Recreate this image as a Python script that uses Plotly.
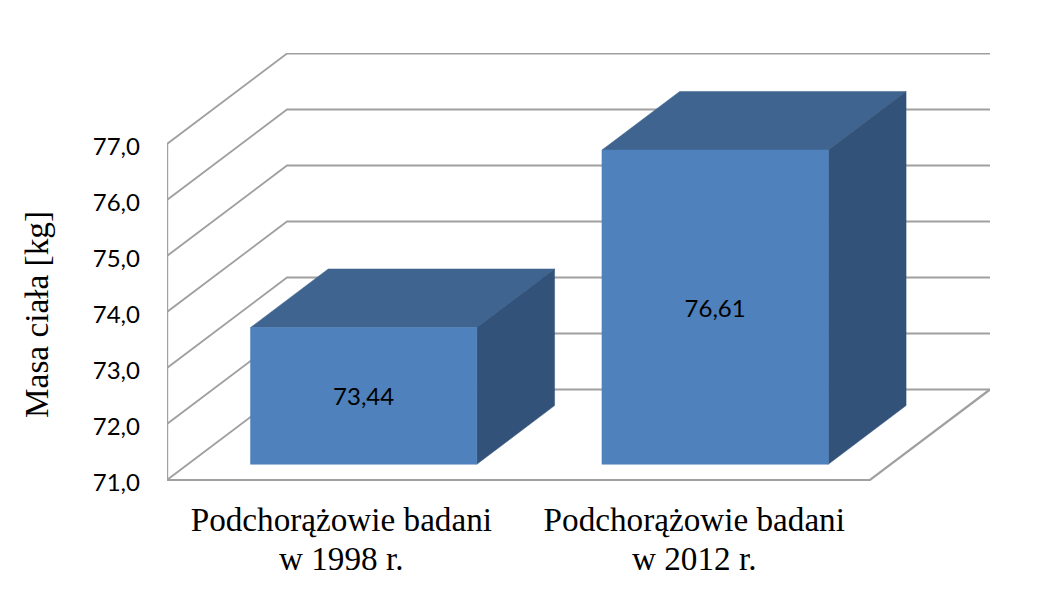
import plotly.graph_objects as go

category_line1 = ["Podchorążowie badani", "Podchorążowie badani"]
category_line2 = ["w 1998 r.", "w 2012 r."]
values = [73.44, 76.61]
value_labels = ["73,44", "76,61"]
y_ticks = [71, 72, 73, 74, 75, 76, 77]

# Pixel scale of the reference frame
PX_X = 351.5   # px per category
PX_Y = 56.0    # px per value unit
PLOT_L, PLOT_R, PLOT_T, PLOT_B = 167, 990, 53, 485
ZERO_PX = 480

# Oblique projection of the 3D box: depth d in 0..1 shifts along both axes
V_MIN = 71
DEPTH_X = 120 / PX_X
DEPTH_Y = 90.5 / PX_Y
BAR_D0, BAR_D1 = 0.174, 0.822
BAR_W = 0.644
GRID = "#a0a0a0"
FRONT, TOP, SIDE = "#4f81bd", "#3e648f", "#335279"
SANS = "Lato"
SERIF = "Liberation Serif"


def proj(x, v, d):
    return x + d * DEPTH_X, v + d * DEPTH_Y


def poly(points):
    xs, ys = zip(*[proj(*p) for p in points])
    return list(xs), list(ys)


fig = go.Figure()


def line(points, width=1.8):
    xs, ys = poly(points)
    fig.add_trace(go.Scatter(x=xs, y=ys, mode="lines", showlegend=False, hoverinfo="skip",
                             line=dict(color=GRID, width=width)))


def face(points, color):
    xs, ys = poly(points)
    fig.add_trace(go.Scatter(x=xs + xs[:1], y=ys + ys[:1], mode="lines", fill="toself",
                             fillcolor=color, line=dict(color=color, width=0.5),
                             showlegend=False, hoverinfo="skip"))


n = len(category_line1)
# walls
for t in y_ticks:
    line([(0, t, 0), (0, t, 1), (n, t, 1)])
line([(0, V_MIN, 0), (0, y_ticks[-1], 0)], 2.4)
line([(0, V_MIN, 0), (n, V_MIN, 0), (n, V_MIN, 1)], 2.2)

# bars
for i, v in enumerate(values):
    l, r = i + 0.5 - BAR_W / 2, i + 0.5 + BAR_W / 2
    face([(l, v, BAR_D0), (r, v, BAR_D0), (r, v, BAR_D1), (l, v, BAR_D1)], TOP)
    face([(r, V_MIN, BAR_D0), (r, V_MIN, BAR_D1), (r, v, BAR_D1), (r, v, BAR_D0)], SIDE)
    face([(l, V_MIN, BAR_D0), (r, V_MIN, BAR_D0), (r, v, BAR_D0), (l, v, BAR_D0)], FRONT)

# data labels at the centre of each front face
LABEL_DROP = 3.5 / PX_Y
lx, ly = zip(*[proj(i + 0.5, (v + V_MIN) / 2 - LABEL_DROP, BAR_D0) for i, v in enumerate(values)])
fig.add_trace(go.Scatter(x=list(lx), y=list(ly), mode="text", text=value_labels, showlegend=False,
                         hoverinfo="skip", textposition="middle center",
                         textfont=dict(family=SANS, size=24, color="#000000")))

# invisible trace that carries the tick-label axis
fig.add_trace(go.Scatter(x=[0] * len(y_ticks), y=y_ticks, yaxis="y2", mode="markers", opacity=0,
                         showlegend=False, hoverinfo="skip"))

# y-axis scale with the labels sitting 3 px under the grid lines, as in the reference
LABEL_SHIFT = 3
y_low = V_MIN - (PLOT_B - ZERO_PX) / PX_Y
y_high = V_MIN + (ZERO_PX - PLOT_T) / PX_Y
shift = LABEL_SHIFT / PX_Y
plot_w, plot_h = PLOT_R - PLOT_L, PLOT_B - PLOT_T

annotations = [
    dict(text="Masa ciała [kg]", textangle=-90, xref="paper", yref="paper", showarrow=False,
         x=(37 - PLOT_L) / plot_w, y=(PLOT_B - 315) / plot_h, xanchor="center", yanchor="middle",
         font=dict(family=SERIF, size=33.3, color="#000000")),
]
label_x = [0.496, 1.5]
for x, text in zip(label_x, category_line2):
    annotations.append(dict(text=text, xref="x", yref="paper", showarrow=False,
                            x=x, y=(PLOT_B - 558) / plot_h, xanchor="center", yanchor="middle",
                            font=dict(family=SERIF, size=33.2, color="#000000")))

fig.update_layout(
    width=1039, height=589, autosize=False,
    margin=dict(l=PLOT_L, r=1039 - PLOT_R, t=PLOT_T, b=589 - PLOT_B),
    paper_bgcolor="white", plot_bgcolor="white",
    annotations=annotations,
    xaxis=dict(range=[0, plot_w / PX_X], tickvals=label_x, ticktext=category_line1,
               showgrid=False, zeroline=False, showline=False, ticks="",
               ticklabelstandoff=12,
               tickfont=dict(family=SERIF, size=33.2, color="#000000")),
    yaxis=dict(range=[y_low, y_high], showticklabels=False, ticks="",
               showgrid=False, zeroline=False, showline=False),
    yaxis2=dict(range=[y_low + shift, y_high + shift], overlaying="y", side="left", tickvals=y_ticks,
                tickformat=".1f", showgrid=False, zeroline=False, showline=False, ticks="",
                ticklabelstandoff=26,
                tickfont=dict(family=SANS, size=24, color="#000000")),
    separators=", ",
)

fig.write_html("out.html", config={"displayModeBar": False},
               post_script="document.body.style.margin='0';")
